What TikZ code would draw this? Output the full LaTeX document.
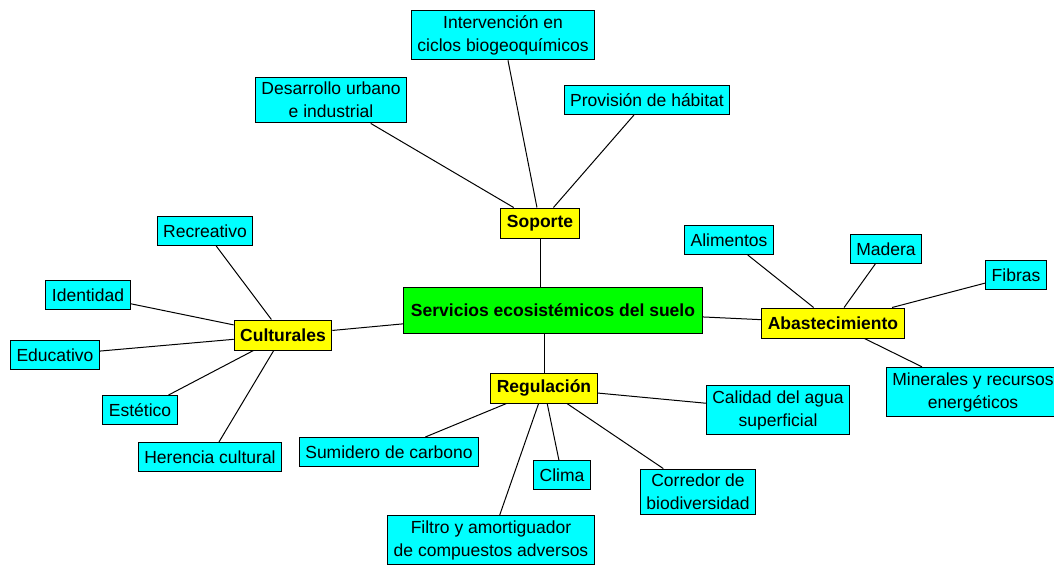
\documentclass[tikz,border=0pt]{standalone}
\usepackage{fontspec}
\setmainfont{Liberation Sans}
\definecolor{celeste}{RGB}{0,255,255}
\definecolor{amarillo}{RGB}{255,255,0}
\definecolor{verde}{RGB}{0,255,0}
\begin{document}
\begin{tikzpicture}[x=1pt,y=-1pt,
	caja/.style={draw=black,line width=1pt,fill=celeste,align=center,inner xsep=6pt,inner ysep=5pt,minimum height=29pt,font=\fontsize{17.5}{23}\selectfont},
	rama/.style={caja,fill=amarillo,font=\fontsize{17.5}{23}\selectfont\bfseries,minimum height=30pt},
	raiz/.style={caja,fill=verde,font=\fontsize{17.5}{23}\selectfont\bfseries,minimum height=46pt,inner xsep=7pt},
	enlace/.style={line width=1pt}]
	\useasboundingbox (0,0) rectangle (1054,568);
	\node[raiz] (servicios) at (553,310) {Servicios ecosistémicos del suelo};
	
	\node[rama] (soporte) at (540,223) {Soporte};
	\node[caja] (intervencion) at (503,35) {Intervención en\\ciclos biogeoquímicos};
	\node[caja] (desarrollo) at (331,100) {Desarrollo urbano\\e industrial};
	\node[caja] (habitat) at (647,100) {Provisión de hábitat};
	
	\node[rama] (abaste) at (833,323) {Abastecimiento};
	\node[caja] (alimentos) at (729,240) {Alimentos};
	\node[caja] (madera) at (886,249) {Madera};
	\node[caja] (fibras) at (1016,275) {Fibras};
	\node[caja] (minerales) at (973,392) {Minerales y recursos\\energéticos};
	
	\node[rama] (culturales) at (283,335) {Culturales};
	\node[caja] (recreativo) at (205,231) {Recreativo};
	\node[caja] (identidad) at (88,295) {Identidad};
	\node[caja] (educativo) at (55,355) {Educativo};
	\node[caja] (estetico) at (140,410) {Estético};
	\node[caja] (herencia) at (210,457) {Herencia cultural};
	
	\node[rama] (regulacion) at (544,388) {Regulación};
	\node[caja] (calidad) at (778,410) {Calidad del agua\\superficial};
	\node[caja] (sumidero) at (389,452) {Sumidero de carbono};
	\node[caja] (clima) at (562,475) {Clima};
	\node[caja] (corredor) at (698,492) {Corredor de\\biodiversidad};
	\node[caja] (filtro) at (491,540) {Filtro y amortiguador\\de compuestos adversos};
	
	\draw[enlace] (soporte.south) -- (soporte.south |- servicios.north);
	\draw[enlace] (servicios) -- (abaste);
	\draw[enlace] (servicios) -- (culturales);
	\draw[enlace] (regulacion.north) -- (regulacion.north |- servicios.south);
	
	\draw[enlace] (soporte) -- (intervencion);
	\draw[enlace] (soporte) -- (desarrollo);
	\draw[enlace] (soporte) -- (habitat);
	
	\draw[enlace] (abaste) -- (alimentos);
	\draw[enlace] (abaste) -- (madera);
	\draw[enlace] (abaste) -- (fibras);
	\draw[enlace] (abaste) -- (minerales);
	
	\draw[enlace] (culturales) -- (recreativo);
	\draw[enlace] (culturales) -- (identidad);
	\draw[enlace] (culturales) -- (educativo);
	\draw[enlace] (culturales) -- (estetico);
	\draw[enlace] (culturales) -- (herencia);
	
	\draw[enlace] (regulacion) -- (calidad);
	\draw[enlace] (regulacion) -- (sumidero);
	\draw[enlace] (regulacion) -- (clima);
	\draw[enlace] (regulacion) -- (corredor);
	\draw[enlace] (regulacion) -- (filtro);
\end{tikzpicture}
\end{document}
